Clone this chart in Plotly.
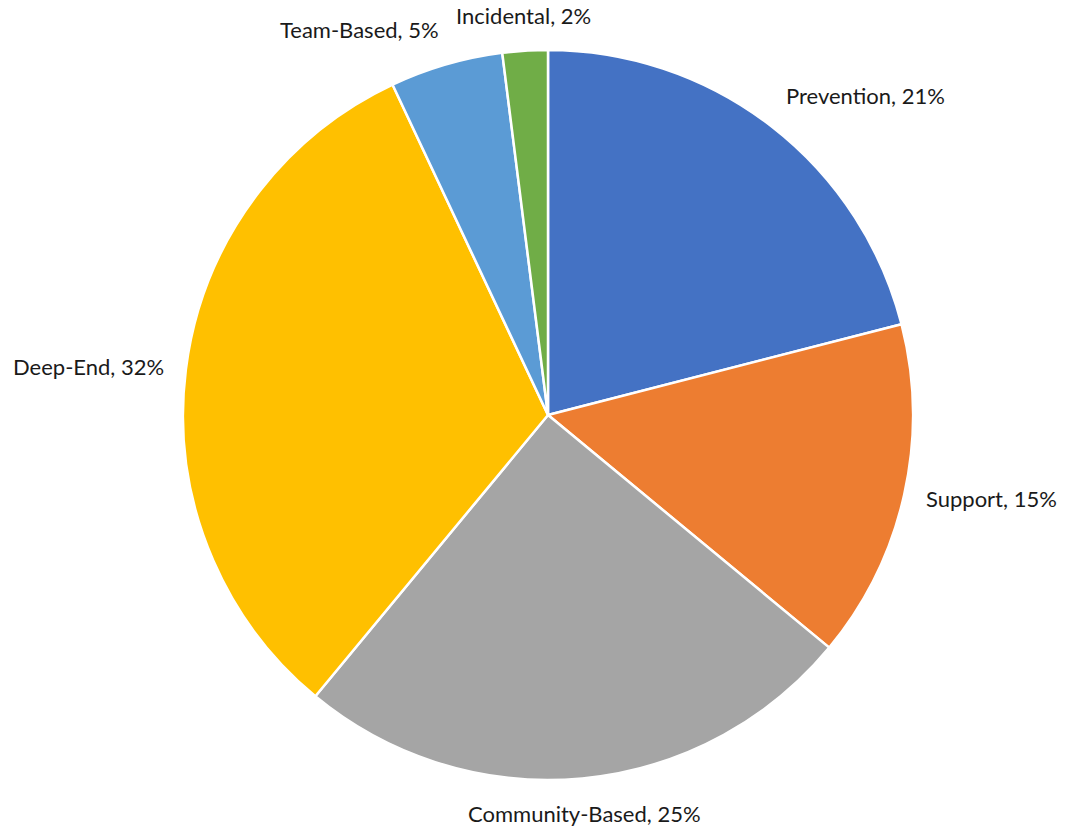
import math
import plotly.graph_objects as go

# Share of spending by program category (percent)
categories = ["Prevention", "Support", "Community-Based", "Deep-End", "Team-Based", "Incidental"]
shares = [21, 15, 25, 32, 5, 2]
colors = ["#4472C4", "#ED7D31", "#A5A5A5", "#FFC000", "#5B9BD5", "#70AD47"]

W, H = 1071, 832
# pie placement on the page (pixels)
top_px, bottom_px = 50, 52
cx_frac = 548 / W
radius_px = (H - top_px - bottom_px) / 2
cy_px = top_px + radius_px
cx_px = cx_frac * W

fig = go.Figure(
    go.Pie(
        labels=categories,
        values=shares,
        sort=False,
        direction="clockwise",
        rotation=0,
        marker=dict(colors=colors, line=dict(color="white", width=2.5)),
        textinfo="none",
        showlegend=False,
        hoverinfo="label+percent",
        domain=dict(
            x=[2 * cx_frac - 1, 1.0],
            y=[bottom_px / H, 1 - top_px / H],
        ),
    )
)

# outside-end data labels, placed around each slice's mid angle
total = sum(shares)
label_r = radius_px + 20
cum = 0.0
for name, val in zip(categories, shares):
    mid = (cum + val / 2) / total
    cum += val
    theta = 2 * math.pi * mid
    s, c = math.sin(theta), math.cos(theta)
    px = cx_px + label_r * s
    py = cy_px - label_r * c
    xanchor = "left" if s > 0.2 else ("right" if s < -0.2 else "center")
    yanchor = "bottom" if c > 0.3 else ("top" if c < -0.3 else "middle")
    fig.add_annotation(
        x=px / W,
        y=1 - py / H,
        xref="paper",
        yref="paper",
        text=f"{name}, {val / total:.0%}",
        showarrow=False,
        xanchor=xanchor,
        yanchor=yanchor,
        font=dict(family="Lato, Calibri, sans-serif", size=22, color="#1a1a1a"),
    )

fig.update_layout(
    width=W,
    height=H,
    margin=dict(l=0, r=0, t=0, b=0),
    paper_bgcolor="white",
    plot_bgcolor="white",
)

fig.write_html("out.html")
